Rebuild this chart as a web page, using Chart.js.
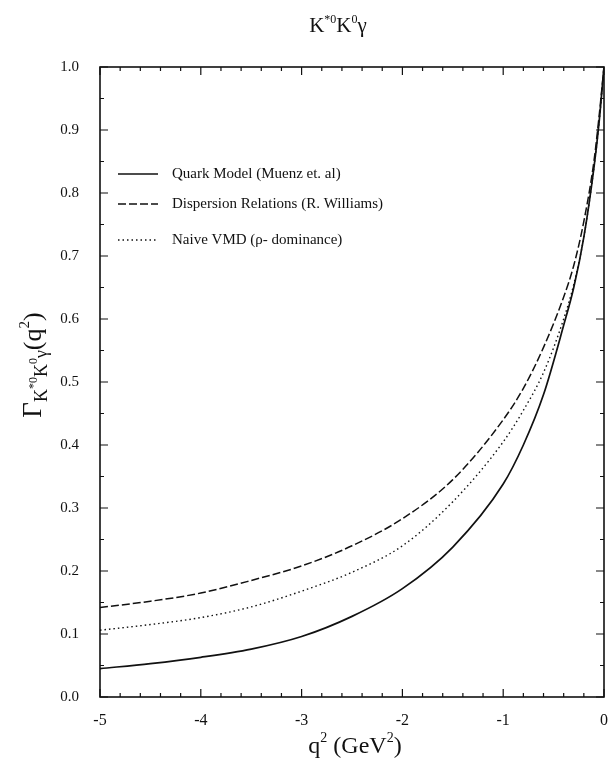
<!DOCTYPE html>
<html>
<head>
<meta charset="utf-8">
<script src="https://cdn.jsdelivr.net/npm/chart.js@4"></script>
<style>
  html, body { margin: 0; padding: 0; background: #fff; }
  #wrap { width: 610px; height: 768px; }
</style>
</head>
<body>
<div id="wrap"><canvas id="grafica"></canvas></div>
<script>
// valores
const q2 = [-5, -4.5, -4, -3.5, -3, -2.5, -2, -1.5, -1, -0.8, -0.6, -0.4, -0.3, -0.2, -0.1, -0.05, 0];
const quarkModel = [0.045, 0.053, 0.063, 0.076, 0.096, 0.128, 0.172, 0.238, 0.338, 0.40, 0.48, 0.59, 0.65, 0.73, 0.84, 0.91, 1.0];
const dispersion = [0.142, 0.152, 0.165, 0.185, 0.208, 0.240, 0.283, 0.345, 0.44, 0.49, 0.555, 0.635, 0.685, 0.755, 0.85, 0.92, 1.0];
const naiveVMD = [0.106, 0.115, 0.126, 0.143, 0.168, 0.198, 0.240, 0.310, 0.405, 0.455, 0.515, 0.60, 0.655, 0.73, 0.84, 0.91, 1.0];
const xTicks = [-5, -4, -3, -2, -1, 0];
const yTicks = [0, 0.1, 0.2, 0.3, 0.4, 0.5, 0.6, 0.7, 0.8, 0.9, 1.0];
const legendLabels = ['Quark Model (Muenz et. al)', 'Dispersion Relations (R. Williams)', 'Naive VMD (\u03c1- dominance)'];

const SERIF = '"Liberation Serif", "DejaVu Serif", serif';
const INK = '#111';

function puntos(ys) {
  return q2.map((x, i) => ({ x: x, y: ys[i] }));
}

// texto con sub/superindices
function textoRico(ctx, partes, x, y) {
  let total = 0;
  partes.forEach(p => {
    ctx.font = p.size + 'px ' + SERIF;
    p.w = ctx.measureText(p.t).width;
    total += p.w;
  });
  let cx = x - total / 2;
  ctx.textAlign = 'left';
  ctx.textBaseline = 'alphabetic';
  partes.forEach(p => {
    ctx.font = p.size + 'px ' + SERIF;
    ctx.fillText(p.t, cx, y + (p.dy || 0));
    cx += p.w;
  });
}

const marcoPlugin = {
  id: 'marco',
  afterDraw(chart) {
    const ctx = chart.ctx;
    const a = chart.chartArea;
    const sx = chart.scales.x, sy = chart.scales.y;
    ctx.save();
    ctx.strokeStyle = INK;
    ctx.fillStyle = INK;
    ctx.lineWidth = 1.6;
    ctx.strokeRect(a.left, a.top, a.right - a.left, a.bottom - a.top);

    ctx.lineWidth = 1.2;
    ctx.beginPath();
    // ticks x, hacia dentro, abajo y arriba
    for (let i = 0; i <= 25; i++) {
      const v = -5 + i * 0.2;
      const px = sx.getPixelForValue(v);
      const len = (i % 5 === 0) ? 8 : 4;
      ctx.moveTo(px, a.bottom); ctx.lineTo(px, a.bottom - len);
      ctx.moveTo(px, a.top); ctx.lineTo(px, a.top + len);
    }
    // ticks y, izquierda y derecha
    for (let i = 0; i <= 20; i++) {
      const v = i * 0.05;
      const py = sy.getPixelForValue(v);
      const len = (i % 2 === 0) ? 8 : 4;
      ctx.moveTo(a.left, py); ctx.lineTo(a.left + len, py);
      ctx.moveTo(a.right, py); ctx.lineTo(a.right - len, py);
    }
    ctx.stroke();

    // leyenda
    const filas = [174, 204, 240];
    chart.data.datasets.forEach((ds, i) => {
      const yy = filas[i];
      ctx.beginPath();
      ctx.lineWidth = ds.borderWidth;
      ctx.setLineDash(ds.borderDash || []);
      ctx.moveTo(118, yy); ctx.lineTo(158, yy);
      ctx.stroke();
      ctx.setLineDash([]);
      ctx.font = '15px ' + SERIF;
      ctx.textAlign = 'left';
      ctx.textBaseline = 'middle';
      ctx.fillText(ds.label, 172, yy);
    });

    // titulo
    textoRico(ctx, [
      { t: 'K', size: 21 }, { t: '*0', size: 12, dy: -9 },
      { t: 'K', size: 21 }, { t: '0', size: 12, dy: -9 },
      { t: '\u03b3', size: 21 }
    ], 338, 32);

    // titulo eje x
    textoRico(ctx, [
      { t: 'q', size: 24 }, { t: '2', size: 14, dy: -11 },
      { t: ' (GeV', size: 24 }, { t: '2', size: 14, dy: -11 },
      { t: ')', size: 24 }
    ], 355, 753);

    // titulo eje y, girado
    ctx.translate(41, 365);
    ctx.rotate(-Math.PI / 2);
    textoRico(ctx, [
      { t: '\u0393', size: 27 },
      { t: 'K', size: 18, dy: 6 }, { t: '*0', size: 12, dy: -4 },
      { t: 'K', size: 18, dy: 6 }, { t: '0', size: 12, dy: -4 },
      { t: '\u03b3', size: 18, dy: 6 },
      { t: '(q', size: 26 }, { t: '2', size: 15, dy: -12 },
      { t: ')', size: 26 }
    ], 0, 0);
    ctx.restore();
  }
};

const grafica = new Chart(document.getElementById('grafica'), {
  type: 'line',
  data: {
    datasets: [{
      label: legendLabels[0],
      data: puntos(quarkModel),
      borderColor: INK,
      borderWidth: 1.7,
      borderDash: [],
      pointRadius: 0,
      cubicInterpolationMode: 'monotone'
    }, {
      label: legendLabels[1],
      data: puntos(dispersion),
      borderColor: INK,
      borderWidth: 1.5,
      borderDash: [8, 3],
      pointRadius: 0,
      cubicInterpolationMode: 'monotone'
    }, {
      label: legendLabels[2],
      data: puntos(naiveVMD),
      borderColor: INK,
      borderWidth: 1.4,
      borderDash: [1.5, 3],
      pointRadius: 0,
      cubicInterpolationMode: 'monotone'
    }]
  },
  options: {
    responsive: true,
    maintainAspectRatio: false,
    animation: false,
    layout: { padding: { top: 67, right: 6, left: 0, bottom: 0 } },
    plugins: {
      legend: { display: false },
      title: { display: false },
      tooltip: { enabled: false }
    },
    scales: {
      x: {
        type: 'linear',
        min: -5,
        max: 0,
        afterFit: s => { s.height = 71; s.paddingLeft = 0; s.paddingRight = 0; },
        afterBuildTicks: s => { s.ticks = xTicks.map(v => ({ value: v })); },
        grid: { display: false },
        border: { display: false },
        ticks: {
          color: INK,
          padding: 6,
          font: { family: SERIF, size: 16 },
          callback: v => String(v)
        }
      },
      y: {
        type: 'linear',
        min: 0,
        max: 1,
        afterFit: s => { s.width = 100; },
        afterBuildTicks: s => { s.ticks = yTicks.map(v => ({ value: v })); },
        grid: { display: false },
        border: { display: false },
        ticks: {
          color: INK,
          padding: 13,
          font: { family: SERIF, size: 15 },
          callback: v => v.toFixed(1)
        }
      }
    }
  },
  plugins: [marcoPlugin]
});
</script>
</body>
</html>
